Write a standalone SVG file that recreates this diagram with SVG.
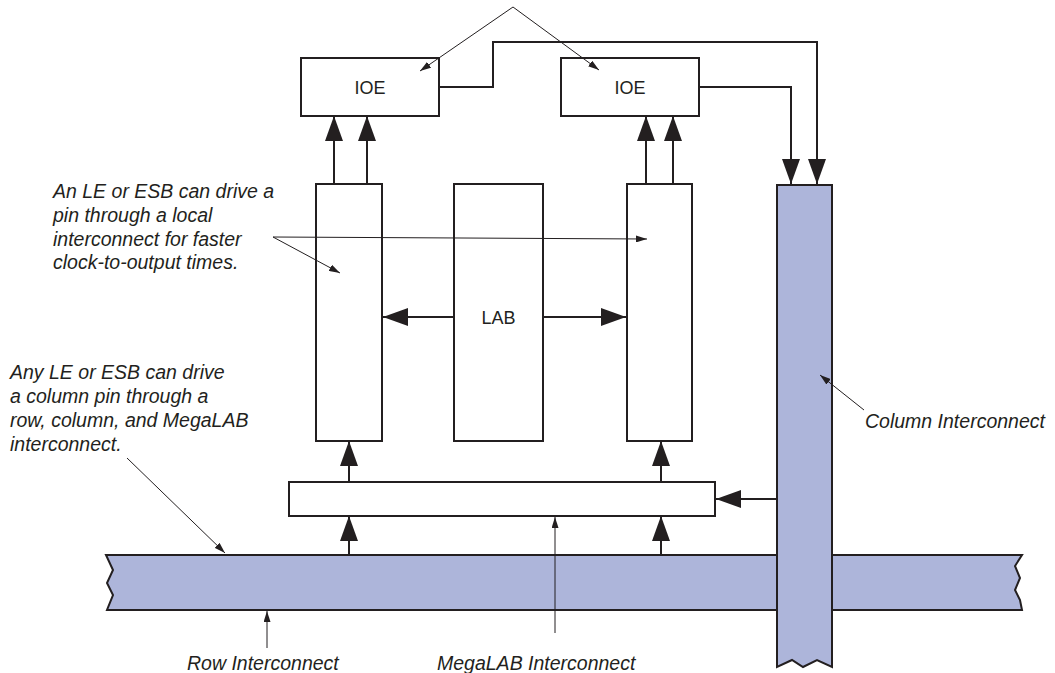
<svg xmlns="http://www.w3.org/2000/svg" width="1055" height="673" viewBox="0 0 1055 673">
<style>
.box{fill:#fff;stroke:#231f20;stroke-width:2}
.bus{fill:#adb5da;stroke:#231f20;stroke-width:2;stroke-linejoin:miter}
.wire{fill:none;stroke:#231f20;stroke-width:2}
.note{fill:none;stroke:#231f20;stroke-width:1}
.lbl{font-family:"Liberation Sans",Arial,sans-serif;font-size:18px;fill:#231f20;text-anchor:middle}
.it{font-family:"Liberation Sans",Arial,sans-serif;font-size:19.5px;font-style:italic;fill:#231f20}
</style>
<defs>
<marker id="big" viewBox="0 0 25 18" refX="25" refY="9" markerWidth="25" markerHeight="18" markerUnits="userSpaceOnUse" orient="auto">
<path d="M0,0 L25,9 L0,18 z" fill="#231f20"/>
</marker>
<marker id="small" viewBox="0 0 11 7" refX="11" refY="3.5" markerWidth="11" markerHeight="7" markerUnits="userSpaceOnUse" orient="auto">
<path d="M0,0 L11,3.5 L0,7 z" fill="#231f20"/>
</marker>
</defs>

<g id="row-interconnect">
<path class="bus" d="M106,555 L1022,555 L1015,566 L1020,578 L1015,590 L1020,600 L1022,610 L107,610 L113,595 L107,583 L113,570 Z"/>
</g>
<g id="column-interconnect">
<path class="bus" d="M777,185 L832,185 L832,667 L817,660 L803,667 L792,660 L777,667 Z"/>
</g>

<g id="ioe-left">
<rect class="box" x="301" y="58" width="138" height="58"/>
<text class="lbl" x="370" y="94">IOE</text>
</g>
<g id="ioe-right">
<rect class="box" x="561" y="58" width="138" height="58"/>
<text class="lbl" x="630" y="94">IOE</text>
</g>
<g id="le-left">
<rect class="box" x="316" y="184" width="66" height="257"/>
</g>
<g id="lab">
<rect class="box" x="454" y="184" width="89" height="257"/>
<text class="lbl" x="498.5" y="324">LAB</text>
</g>
<g id="le-right">
<rect class="box" x="627" y="184" width="65" height="257"/>
</g>
<g id="megalab-interconnect">
<rect class="box" x="289" y="482" width="426" height="34"/>
</g>

<g id="connectors">
<path class="wire" marker-end="url(#big)" d="M334,184 V116"/>
<path class="wire" marker-end="url(#big)" d="M367,184 V116"/>
<path class="wire" marker-end="url(#big)" d="M646,184 V116"/>
<path class="wire" marker-end="url(#big)" d="M673,184 V116"/>
<path class="wire" marker-end="url(#big)" d="M454,317 H383"/>
<path class="wire" marker-end="url(#big)" d="M543,317 H626"/>
<path class="wire" marker-end="url(#big)" d="M349,482 V441"/>
<path class="wire" marker-end="url(#big)" d="M661,482 V441"/>
<path class="wire" marker-end="url(#big)" d="M349,555 V516"/>
<path class="wire" marker-end="url(#big)" d="M661,555 V516"/>
<path class="wire" marker-end="url(#big)" d="M777,499 H716"/>
<path class="wire" marker-end="url(#big)" d="M439,87 H493 V42 H817 V184"/>
<path class="wire" marker-end="url(#big)" d="M699,87 H791 V184"/>
</g>

<g id="annotations">
<path class="note" marker-end="url(#small)" d="M513,7 L420,71"/>
<path class="note" marker-end="url(#small)" d="M513,7 L599,70"/>
<path class="note" marker-end="url(#small)" d="M273,237 L340,273"/>
<path class="note" marker-end="url(#small)" d="M273,237 L647,239"/>
<path class="note" marker-end="url(#small)" d="M127,458 L225,553"/>
<path class="note" marker-end="url(#small)" d="M864,410 L820,375"/>
<path class="note" marker-end="url(#small)" d="M267,648 V611"/>
<path class="note" marker-end="url(#small)" d="M555,633 V517"/>
</g>

<g id="labels">
<text class="it" x="53" y="198">An LE or ESB can drive a</text>
<text class="it" x="53" y="222">pin through a local</text>
<text class="it" x="53" y="246">interconnect for faster</text>
<text class="it" x="53" y="269">clock-to-output times.</text>
<text class="it" x="10" y="379">Any LE or ESB can drive</text>
<text class="it" x="10" y="403">a column pin through a</text>
<text class="it" x="10" y="427">row, column, and MegaLAB</text>
<text class="it" x="10" y="451">interconnect.</text>
<text class="it" x="865" y="428">Column Interconnect</text>
<text class="it" x="187" y="670">Row Interconnect</text>
<text class="it" x="437" y="670">MegaLAB Interconnect</text>
</g>
</svg>
